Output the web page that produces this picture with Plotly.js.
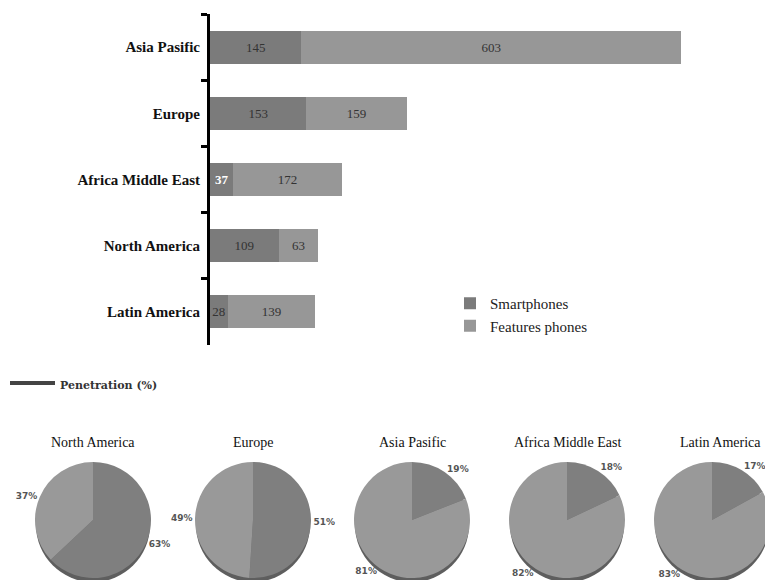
<!DOCTYPE html>
<html>
<head>
<meta charset="utf-8">
<script src="https://cdn.plot.ly/plotly-3.0.1.min.js"></script>
<style>
  html, body { margin: 0; padding: 0; overflow: hidden; background: #fff; }
  #chart { width: 800px; height: 620px; }
</style>
</head>
<body>
<div id="chart"></div>
<script>
// ---- data ----
const regions = ['Asia Pasific', 'Europe', 'Africa Middle East', 'North America', 'Latin America'];
const smartphones = [145, 153, 37, 109, 28];
const featurePhones = [603, 159, 172, 63, 139];

const pieRegions = ['North America', 'Europe', 'Asia Pasific', 'Africa Middle East', 'Latin America'];
const smartShare = [63, 51, 19, 18, 17];
const featureShare = [37, 49, 81, 82, 83];
const sliceLabels = ['Smartphones', 'Features phones'];

// ---- layout helpers (pixel -> paper) ----
const W = 800, H = 620;
const px = v => v / W;
const py = v => 1 - v / H;

const darkGrey = '#7b7b7b';
const lightGrey = '#979797';
const pieDark = '#7f7f7f';
const pieLight = '#999999';

const serif = 'Liberation Serif, Times New Roman, serif';

const traces = [
  {
    type: 'bar', orientation: 'h', name: 'Smartphones',
    y: regions, x: smartphones,
    text: smartphones.map(String), textposition: 'inside', insidetextanchor: 'middle',
    constraintext: 'none', textangle: 0, cliponaxis: false,
    textfont: {
      family: serif, size: 13,
      color: smartphones.map(v => v === 37 ? '#ffffff' : '#333333'),
      weight: smartphones.map(v => v === 37 ? 'bold' : 'normal')
    },
    marker: { color: darkGrey, line: { width: 0 } },
    hoverinfo: 'x+y'
  },
  {
    type: 'bar', orientation: 'h', name: 'Features phones',
    y: regions, x: featurePhones,
    text: featurePhones.map(String), textposition: 'inside', insidetextanchor: 'middle',
    constraintext: 'none', textangle: 0, cliponaxis: false,
    textfont: { family: serif, size: 13, color: '#333333' },
    marker: { color: lightGrey, line: { width: 0 } },
    hoverinfo: 'x+y'
  }
];

const pieCentersX = [93, 253, 412, 567, 712];
const titleCentersX = [93, 253, 412, 567, 720];
const pieCY = 520, pieR = 58;
const shapes = [];
const annotations = [];

pieRegions.forEach((name, i) => {
  const cx = pieCentersX[i];
  traces.push({
    type: 'pie',
    labels: sliceLabels,
    values: [smartShare[i], featureShare[i]],
    sort: false, direction: 'clockwise', rotation: 0,
    marker: { colors: [pieDark, pieLight], line: { width: 0 } },
    textinfo: 'percent', textposition: 'outside',
    textfont: { family: 'DejaVu Sans, sans-serif', size: 9, color: '#555555', weight: 'bold' },
    showlegend: false,
    domain: { x: [px(cx - pieR), px(cx + pieR)], y: [py(pieCY + pieR), py(pieCY - pieR)] }
  });
  // darker rim under the pie (3D edge)
  shapes.push({
    type: 'circle', xref: 'paper', yref: 'paper', layer: 'below',
    x0: px(cx - pieR + 1), x1: px(cx + pieR - 1),
    y0: py(pieCY + pieR + 4), y1: py(pieCY - pieR + 6),
    fillcolor: '#5e5e5e', line: { width: 0 }
  });
  annotations.push({
    xref: 'paper', yref: 'paper', x: px(titleCentersX[i]), y: py(442),
    xanchor: 'center', yanchor: 'middle', showarrow: false,
    text: name, font: { family: serif, size: 14, color: '#111111' }
  });
});

// "Penetration (%)" key
shapes.push({
  type: 'line', xref: 'paper', yref: 'paper',
  x0: px(10), x1: px(55), y0: py(383), y1: py(383),
  line: { color: '#444444', width: 4 }
});
annotations.push({
  xref: 'paper', yref: 'paper', x: px(58), y: py(385),
  xanchor: 'left', yanchor: 'middle', showarrow: false,
  text: 'Penetration (%)', font: { family: 'DejaVu Serif, serif', size: 11, color: '#333333', weight: 'bold' }
});

const layout = {
  width: W, height: H,
  margin: { l: 0, r: 0, t: 0, b: 0 },
  paper_bgcolor: '#ffffff', plot_bgcolor: '#ffffff',
  barmode: 'stack', bargap: 0.5,
  showlegend: true,
  legend: {
    x: px(450), y: py(287), xanchor: 'left', yanchor: 'top',
    font: { family: serif, size: 15, color: '#222222' },
    traceorder: 'normal', bgcolor: 'rgba(0,0,0,0)', itemwidth: 30, tracegroupgap: 4
  },
  xaxis: {
    domain: [px(210), px(740)], range: [0, 530 / 0.63],
    visible: false, fixedrange: true
  },
  yaxis: {
    domain: [py(345), py(14)],
    type: 'category', range: [4.5, -0.5],
    showline: true, linecolor: '#000000', linewidth: 3,
    ticks: 'outside', tickson: 'boundaries', ticklen: 6, tickwidth: 3, tickcolor: '#000000',
    ticklabelstandoff: 4,
    showgrid: false, zeroline: false,
    tickfont: { family: serif, size: 15, color: '#111111', weight: 'bold' },
    fixedrange: true
  },
  shapes: shapes,
  annotations: annotations,
  font: { family: serif }
};

Plotly.newPlot('chart', traces, layout, { displayModeBar: false, staticPlot: true });
</script>
</body>
</html>
